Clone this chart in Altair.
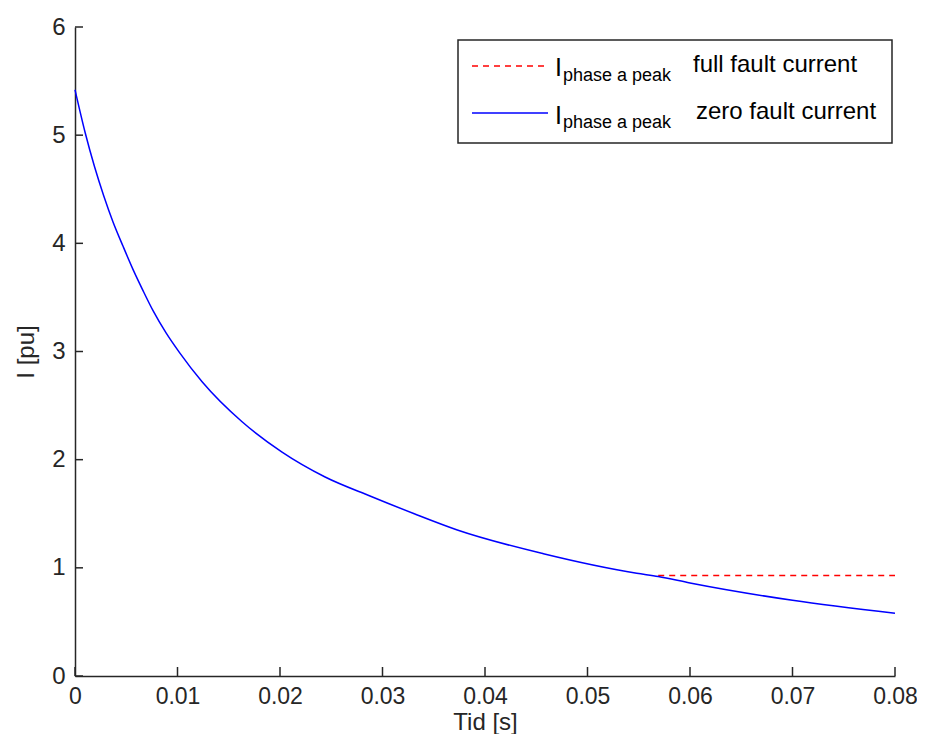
import altair as alt
import pandas as pd

# ---- data ----
t_zero = [0.0, 0.001, 0.0019, 0.0028, 0.0037, 0.0047, 0.0057, 0.0066, 0.0076,
          0.0089, 0.0102, 0.0124, 0.0163, 0.0202, 0.0244, 0.0289, 0.0331, 0.0373,
          0.0457, 0.0548, 0.0569, 0.06, 0.07, 0.08]
i_zero = [5.42, 5.02, 4.71, 4.44, 4.20, 3.97, 3.75, 3.57, 3.38,
          3.17, 2.99, 2.72, 2.35, 2.07, 1.84, 1.66, 1.50, 1.35,
          1.13, 0.95, 0.92, 0.86, 0.70, 0.58]
t_full = [0.0569, 0.08]
i_full = [0.93, 0.93]

x_ticks = [0, 0.01, 0.02, 0.03, 0.04, 0.05, 0.06, 0.07, 0.08]
y_ticks = [0, 1, 2, 3, 4, 5, 6]

legend_main = ["I", "I"]
legend_sub = ["phase a peak", "phase a peak"]
legend_rest = ["full fault current", "zero fault current"]
x_title = "Tid [s]"
y_title = "I [pu]"

# ---- layout ----
W, H = 820, 649
FONT = "Liberation Sans"
INK = "#262626"

xs = alt.Scale(domain=[0, 0.08], nice=False, zero=False)
ys = alt.Scale(domain=[0, 6], nice=False)

df_zero = pd.DataFrame({"t": t_zero, "I": i_zero})
df_full = pd.DataFrame({"t": t_full, "I": i_full})
df_xt = pd.DataFrame({"t": x_ticks})
df_yt = pd.DataFrame({"I": y_ticks})
one = pd.DataFrame({"k": [0]})

x_axis = alt.Axis(title=x_title, values=x_ticks, format=".2~f", grid=False,
                  ticks=False, tickSize=0, domainColor=INK, domainWidth=1.5,
                  labelFont=FONT, labelFontSize=23, labelColor=INK, labelPadding=9,
                  labelFlush=False, labelOverlap=False,
                  titleFont=FONT, titleFontSize=24, titleFontWeight="normal",
                  titleColor=INK, titleY=58, titleBaseline="bottom")
y_axis = alt.Axis(title=y_title, values=y_ticks, format="d", grid=False,
                  ticks=False, tickSize=0, domainColor=INK, domainWidth=1.5,
                  labelFont=FONT, labelFontSize=24, labelColor=INK, labelPadding=10,
                  labelFlush=False, labelOverlap=False, labelBaseline="middle",
                  titleFont=FONT, titleFontSize=24, titleFontWeight="normal",
                  titleColor=INK, titleX=-49, titleY=H / 2, titleBaseline="middle",
                  titleAngle=270)

X = alt.X("t:Q", scale=xs, axis=x_axis)
Y = alt.Y("I:Q", scale=ys, axis=y_axis)

full_line = alt.Chart(df_full).mark_line(color="#FF0000", strokeWidth=1.5,
                                         strokeDash=[6, 5]).encode(x=X, y=Y)
zero_line = alt.Chart(df_zero).mark_line(color="#0000FF", strokeWidth=1.5,
                                         interpolate="monotone").encode(x=X, y=Y)

x_tick_marks = alt.Chart(df_xt).mark_rule(color=INK, strokeWidth=1.5).encode(
    x=X, y=alt.value(H), y2=alt.value(H - 9),
)
y_tick_marks = alt.Chart(df_yt).mark_rule(color=INK, strokeWidth=1.5).encode(
    y=Y, x=alt.value(0), x2=alt.value(8),
)

# ---- legend box drawn by hand (for the subscripts) ----
box = alt.Chart(one).mark_rect(fill="white", stroke=INK, strokeWidth=1.5).encode(
    x=alt.value(383), x2=alt.value(817), y=alt.value(13), y2=alt.value(116))
red_sample = alt.Chart(one).mark_rule(color="#FF0000", strokeWidth=1.5,
                                      strokeDash=[6, 5]).encode(
    x=alt.value(397), x2=alt.value(473), y=alt.value(39))
blue_sample = alt.Chart(one).mark_rule(color="#0000FF", strokeWidth=1.5).encode(
    x=alt.value(397), x2=alt.value(473), y=alt.value(86))

legend_layers = [box, red_sample, blue_sample]
row_main_y = [49, 97]
row_sub_y = [54, 101]
row_rest_y = [45, 92]
row_rest_x = [618, 621]
for i in range(2):
    legend_layers.append(alt.Chart(one).mark_text(
        align="left", baseline="alphabetic", font=FONT, fontSize=25, color="black"
    ).encode(x=alt.value(480), y=alt.value(row_main_y[i]), text=alt.value(legend_main[i])))
    legend_layers.append(alt.Chart(one).mark_text(
        align="left", baseline="alphabetic", font=FONT, fontSize=18, color="black"
    ).encode(x=alt.value(488), y=alt.value(row_sub_y[i]), text=alt.value(legend_sub[i])))
    legend_layers.append(alt.Chart(one).mark_text(
        align="left", baseline="alphabetic", font=FONT, fontSize=24, color="black"
    ).encode(x=alt.value(row_rest_x[i]), y=alt.value(row_rest_y[i]), text=alt.value(legend_rest[i])))

chart = alt.layer(
    full_line, zero_line, x_tick_marks, y_tick_marks, *legend_layers
).properties(
    width=W, height=H,
    autosize=alt.AutoSizeParams(type="none"),
    padding={"left": 67, "top": 19, "right": 22, "bottom": 58},
    background="white",
).configure_view(stroke=None)

chart.save("out.html", embed_options={"renderer": "svg", "actions": False})
